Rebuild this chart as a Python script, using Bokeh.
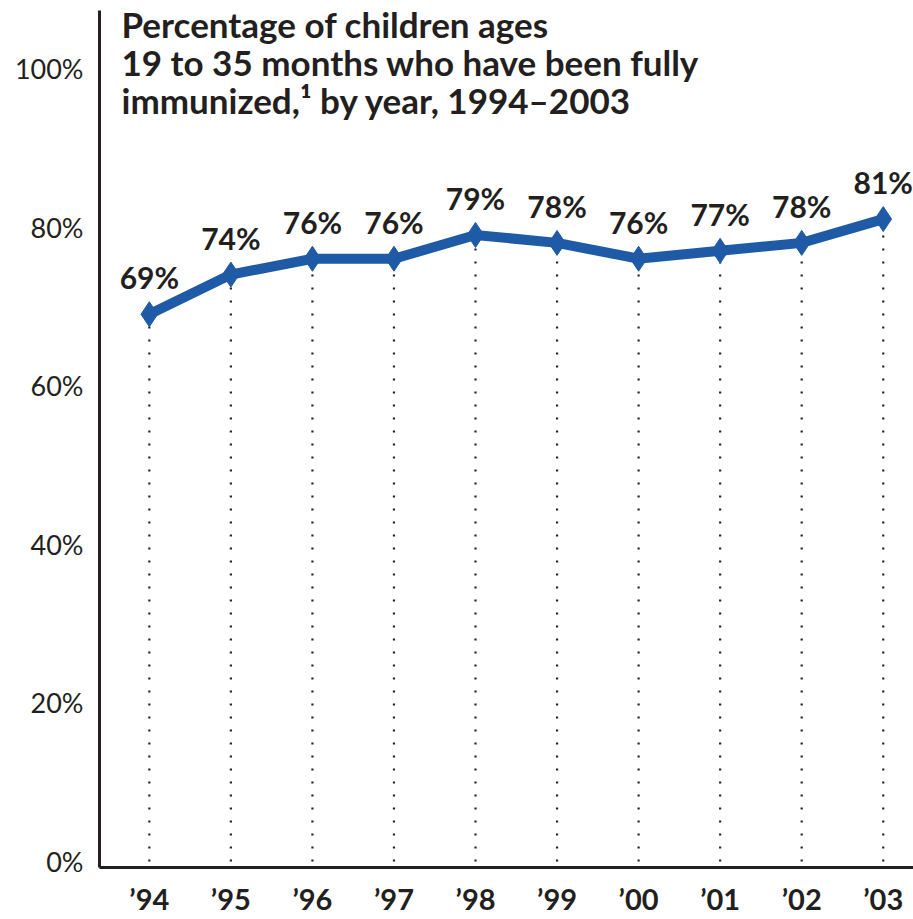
from bokeh.plotting import figure
from bokeh.models import Range1d, FixedTicker, Label, ColumnDataSource
from bokeh.core.properties import value
from bokeh.embed import file_html
from bokeh.resources import INLINE

years = ["’94", "’95", "’96", "’97", "’98", "’99", "’00", "’01", "’02", "’03"]
pct = [69, 74, 76, 76, 79, 78, 76, 77, 78, 81]
y_ticks = [0, 20, 40, 60, 80, 100]
title_lines = ["Percentage of children ages",
               "19 to 35 months who have been fully",
               "immunized,¹ by year, 1994–2003"]

BLUE = "#1f5aa6"
INK = "#231f20"
FONT = "Lato"

idx = list(range(len(years)))
src = ColumnDataSource(dict(x=idx, y=pct, zero=[0] * len(pct),
                            lab=[f"{v}%" for v in pct]))

p = figure(width=913, height=919, output_backend="svg", toolbar_location=None,
           x_range=Range1d(-0.611, 9.371), y_range=Range1d(-0.757, 107.3),
           min_border_left=99, min_border_right=0, min_border_top=10,
           min_border_bottom=52)
p.outline_line_color = None
p.grid.visible = False
p.background_fill_color = "white"
p.border_fill_color = "white"

# axes
p.yaxis.ticker = FixedTicker(ticks=y_ticks)
p.yaxis.major_label_overrides = {t: f"{t}%" for t in y_ticks}
p.yaxis.major_tick_out = 0
p.yaxis.major_tick_in = 0
p.yaxis.minor_tick_out = 0
p.yaxis.minor_tick_in = 0
p.yaxis.axis_line_width = 3
p.yaxis.axis_line_color = INK
p.yaxis.major_label_standoff = 16
p.yaxis.major_label_text_font = FONT
p.yaxis.major_label_text_font_size = "27px"
p.yaxis.major_label_text_color = INK

p.xaxis.ticker = FixedTicker(ticks=idx)
p.xaxis.major_label_overrides = {i: t for i, t in zip(idx, years)}
p.xaxis.major_tick_out = 0
p.xaxis.major_tick_in = 0
p.xaxis.minor_tick_out = 0
p.xaxis.minor_tick_in = 0
p.xaxis.axis_line_width = 3
p.xaxis.axis_line_color = INK
p.xaxis.major_label_standoff = 13
p.xaxis.major_label_text_font = FONT
p.xaxis.major_label_text_font_style = "bold"
p.xaxis.major_label_text_font_size = "29px"
p.xaxis.major_label_text_color = INK

# dotted drop lines
p.segment(x0="x", y0="zero", x1="x", y1="y", source=src, line_color=INK,
          line_width=2.2, line_dash="2 11")

# series
p.line("x", "y", source=src, line_color=BLUE, line_width=10, line_join="miter")
p.scatter("x", "y", source=src, marker="diamond", size=25, fill_color=BLUE,
          line_color=BLUE)

# data labels
p.text("x", "y", text="lab", source=src, text_align="center",
       text_baseline="middle", y_offset=-37, text_font=value(FONT),
       text_font_style="bold", text_font_size="30px", text_color=INK)

# title
for k, line in enumerate(title_lines):
    p.add_layout(Label(x=-0.341, y=105.66 - k * 4.8, text=line,
                       text_align="left", text_baseline="alphabetic",
                       text_font=FONT, text_font_style="bold",
                       text_font_size="35px", text_color=INK))

open("out.html", "w").write(file_html(p, INLINE))
